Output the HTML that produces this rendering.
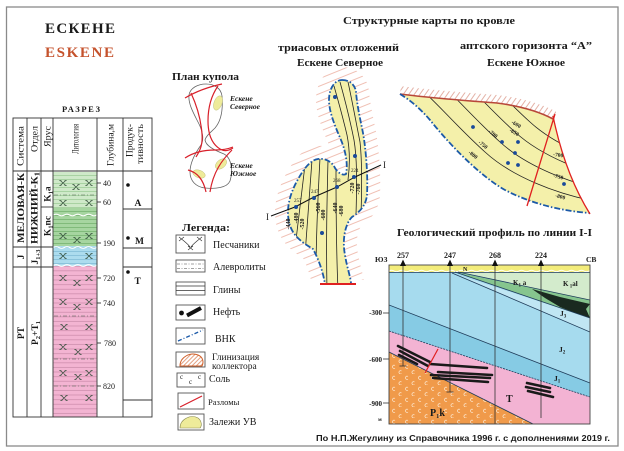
<!DOCTYPE html>
<html><head><meta charset="utf-8">
<style>
html,body{margin:0;padding:0;background:#fff;}
svg{display:block;}
text{font-family:"Liberation Serif",serif;fill:#1a1a1a;}
.b{font-weight:bold;}
.sans{font-family:"Liberation Sans",sans-serif;}
</style></head><body>
<svg width="624" height="451" viewBox="0 0 624 451" xmlns="http://www.w3.org/2000/svg">
<defs>
 <pattern id="stG1" patternUnits="userSpaceOnUse" width="10" height="4"><rect width="10" height="4" fill="#cfe9c9"/><line x1="0" y1="3.5" x2="10" y2="3.5" stroke="#98c992" stroke-width="0.7"/></pattern>
 <pattern id="stG2" patternUnits="userSpaceOnUse" width="10" height="4"><rect width="10" height="4" fill="#a6d5a0"/><line x1="0" y1="3.5" x2="10" y2="3.5" stroke="#6fae69" stroke-width="0.7"/></pattern>
 <pattern id="stB" patternUnits="userSpaceOnUse" width="10" height="4"><rect width="10" height="4" fill="#acdcee"/><line x1="0" y1="3.5" x2="10" y2="3.5" stroke="#7db9d3" stroke-width="0.7"/></pattern>
 <pattern id="stP" patternUnits="userSpaceOnUse" width="10" height="4.6"><rect width="10" height="4.6" fill="#f3b4d2"/><line x1="0" y1="4" x2="10" y2="4" stroke="#c98aa9" stroke-width="0.7"/></pattern>
 <pattern id="hatchN" patternUnits="userSpaceOnUse" width="10" height="7" patternTransform="rotate(-22)"><line x1="0" y1="3.5" x2="10" y2="3.5" stroke="#eaa494" stroke-width="0.7"/></pattern>
 <pattern id="hatchS" patternUnits="userSpaceOnUse" width="4.5" height="10" patternTransform="rotate(35)"><line x1="2" y1="0" x2="2" y2="10" stroke="#d99080" stroke-width="0.7"/></pattern>
 <pattern id="hatchO" patternUnits="userSpaceOnUse" width="3" height="3" patternTransform="rotate(45)"><line x1="1.5" y1="0" x2="1.5" y2="3" stroke="#d0602a" stroke-width="0.6"/></pattern>
 <pattern id="cpat" patternUnits="userSpaceOnUse" width="13" height="11"><rect width="13" height="11" fill="#f09a4a"/><path d="M5,2.5 a1.6,1.6 0 1 0 0,2.6 M11.5,8 a1.6,1.6 0 1 0 0,2.6" fill="none" stroke="#fde6cc" stroke-width="0.7"/></pattern>
 <path id="xm" d="M-2.6,-2.4 L2.6,2.4 M-2.6,2.4 L2.6,-2.4 M-3.6,-2.4 h2 M1.6,-2.4 h2 M-3.6,2.4 h2 M1.6,2.4 h2" fill="none" stroke="#2e4a36" stroke-width="0.7"/>
 <path id="npoly" d="M342,80 C349,80 355,84 356,92 C357,105 360,118 363,133 C366,150 368,175 367,195 C366,205 360,212 352,217 C345,224 342,240 345,255 C347,268 351,278 351,284 L325,284 C323,272 319,260 313,249 C303,243 292,236 289,222 C286,208 290,194 297,181 C303,170 310,160 318,159 C326,158 332,162 335,168 C338,173 343,176 346,174 C348,165 346,152 341,140 C335,126 329,112 329,100 C329,88 335,80 342,80 Z"/>
 <clipPath id="nclip"><use href="#npoly"/></clipPath>
 <clipPath id="nhalo"><rect x="250" y="60" width="150" height="220"/></clipPath>
 <path id="spoly" d="M400,94 C430,98 470,101 497,103 C520,106 540,112 553,119 C560,150 572,185 590,213 C560,211 530,203 505,190 C480,176 450,145 430,120 C418,106 408,99 400,94 Z"/>
 <clipPath id="sclip"><use href="#spoly"/></clipPath>
 <clipPath id="sabove"><path d="M396,94 C430,98 470,101 497,103 C520,106 540,112 553,119 L556,119 L556,70 L396,70 Z"/></clipPath>
 <clipPath id="pc"><rect x="389" y="265" width="201" height="159"/></clipPath>
</defs>

<!-- frame -->
<rect x="6.5" y="7" width="611.5" height="439" fill="#fff" stroke="#8a8a8a" stroke-width="1.3"/>

<!-- Titles -->
<text class="b" x="45" y="33" font-size="15" textLength="70" lengthAdjust="spacing" fill="#1a1a1a">ЕСКЕНЕ</text>
<text class="b" x="45" y="57" font-size="15" textLength="69" lengthAdjust="spacing" style="fill:#c5522c">ESKENE</text>
<text class="b" x="62" y="112" font-size="8.5" textLength="38" lengthAdjust="spacing">РАЗРЕЗ</text>

<!-- Column fills -->
<rect x="53.5" y="172" width="43" height="36" fill="url(#stG1)"/>
<rect x="53.5" y="208" width="43" height="38" fill="url(#stG2)"/>
<rect x="53.5" y="246" width="43" height="20" fill="url(#stB)"/>
<rect x="53.5" y="266" width="43" height="151" fill="url(#stP)"/>
<g fill="none" stroke="#fff" stroke-width="1.2">
 <path d="M53.5,215 q2.7,-1.6 5.4,0 t5.4,0 t5.4,0 t5.4,0 t5.4,0 t5.4,0 t5.4,0 t5.4,0"/>
 <path d="M53.5,247.5 q2.7,-1.6 5.4,0 t5.4,0 t5.4,0 t5.4,0 t5.4,0 t5.4,0 t5.4,0 t5.4,0"/>
 <path d="M53.5,265.5 q2.7,-1.6 5.4,0 t5.4,0 t5.4,0 t5.4,0 t5.4,0 t5.4,0 t5.4,0 t5.4,0"/>
</g>
<g stroke="#4a5a4a" stroke-width="0.6" stroke-dasharray="4,2,1,2">
 <line x1="54" y1="195" x2="96" y2="195"/>
 <line x1="54" y1="316" x2="96" y2="316"/>
 <line x1="54" y1="359" x2="96" y2="359"/>
 <line x1="54" y1="386" x2="96" y2="386"/>
</g>
<g>
 <use href="#xm" x="63" y="183"/><use href="#xm" x="89" y="183"/><use href="#xm" x="76" y="187"/>
 <use href="#xm" x="63" y="203"/><use href="#xm" x="89" y="203"/>
 <use href="#xm" x="63" y="236"/><use href="#xm" x="89" y="236"/><use href="#xm" x="77" y="240"/>
 <use href="#xm" x="63" y="256"/><use href="#xm" x="89" y="256"/>
 <use href="#xm" x="63" y="278"/><use href="#xm" x="89" y="278"/><use href="#xm" x="77" y="283"/>
 <use href="#xm" x="63" y="302"/><use href="#xm" x="89" y="302"/><use href="#xm" x="77" y="307"/>
 <use href="#xm" x="64" y="327"/><use href="#xm" x="89" y="327"/>
 <use href="#xm" x="63" y="347"/><use href="#xm" x="89" y="347"/><use href="#xm" x="78" y="352"/>
 <use href="#xm" x="63" y="373"/><use href="#xm" x="89" y="373"/><use href="#xm" x="78" y="377"/>
 <use href="#xm" x="64" y="398"/><use href="#xm" x="89" y="398"/>
</g>

<!-- Column grid -->
<g stroke="#333" stroke-width="0.9" fill="none">
 <rect x="13" y="118" width="139" height="299"/>
 <line x1="27" y1="118" x2="27" y2="417"/>
 <line x1="41" y1="118" x2="41" y2="417"/>
 <line x1="53" y1="118" x2="53" y2="417"/>
 <line x1="97" y1="118" x2="97" y2="417"/>
 <line x1="123" y1="118" x2="123" y2="417"/>
 <line x1="13" y1="171" x2="152" y2="171"/>
 <line x1="13" y1="247" x2="53" y2="247"/>
 <line x1="13" y1="267" x2="53" y2="267"/>
 <line x1="41" y1="207" x2="53" y2="207"/>
 <line x1="123" y1="209" x2="152" y2="209"/>
 <line x1="123" y1="248" x2="152" y2="248"/>
 <line x1="123" y1="267" x2="152" y2="267"/>
 <line x1="123" y1="400" x2="152" y2="400"/>
 <line x1="97" y1="183" x2="101" y2="183"/>
 <line x1="97" y1="202" x2="101" y2="202"/>
 <line x1="97" y1="243" x2="101" y2="243"/>
 <line x1="97" y1="278" x2="101" y2="278"/>
 <line x1="97" y1="303" x2="101" y2="303"/>
 <line x1="97" y1="343" x2="101" y2="343"/>
 <line x1="97" y1="386" x2="101" y2="386"/>
</g>
<!-- header labels -->
<g font-size="9.5" fill="#333">
 <text transform="translate(23.5,126) rotate(-90)" text-anchor="end" textLength="40" lengthAdjust="spacingAndGlyphs">Система</text>
 <text transform="translate(37.5,126) rotate(-90)" text-anchor="end" textLength="26" lengthAdjust="spacingAndGlyphs">Отдел</text>
 <text transform="translate(50.5,126) rotate(-90)" text-anchor="end" textLength="21" lengthAdjust="spacingAndGlyphs">Ярус</text>
 <text transform="translate(78.5,124) rotate(-90)" text-anchor="end" textLength="30" lengthAdjust="spacingAndGlyphs">Литология</text>
 <text transform="translate(113.5,124) rotate(-90)" text-anchor="end" textLength="42" lengthAdjust="spacingAndGlyphs">Глубина,м</text>
 <text transform="translate(132.5,124) rotate(-90)" text-anchor="end" textLength="33" lengthAdjust="spacingAndGlyphs">Продук-</text>
 <text transform="translate(143,124) rotate(-90)" text-anchor="end" textLength="40" lengthAdjust="spacingAndGlyphs">тивность</text>
</g>
<g class="b" font-size="9.5" font-weight="bold">
 <text transform="translate(24,208) rotate(-90)" text-anchor="middle" textLength="70" lengthAdjust="spacingAndGlyphs">МЕЛОВАЯ-К</text>
 <text transform="translate(37.5,208) rotate(-90)" text-anchor="middle" textLength="72" lengthAdjust="spacingAndGlyphs">НИЖНИЙ-К<tspan font-size="7" dy="2">1</tspan></text>
 <text transform="translate(50.5,194) rotate(-90)" text-anchor="middle">K<tspan font-size="6.5" dy="2">1</tspan><tspan dy="-2">a</tspan></text>
 <text transform="translate(50.5,226) rotate(-90)" text-anchor="middle">K<tspan font-size="6.5" dy="2">1</tspan><tspan dy="-2">nc</tspan></text>
 <text transform="translate(24,257) rotate(-90)" text-anchor="middle">J</text>
 <text transform="translate(38,257) rotate(-90)" text-anchor="middle">J<tspan font-size="6.5" dy="2">1+3</tspan></text>
 <text transform="translate(24,333) rotate(-90)" text-anchor="middle">PT</text>
 <text transform="translate(38,333) rotate(-90)" text-anchor="middle">P<tspan font-size="6.5" dy="2">2</tspan><tspan dy="-2">+T</tspan><tspan font-size="6.5" dy="2">1</tspan></text>
</g>
<g font-size="8" fill="#333">
 <text x="103" y="186">40</text><text x="103" y="205">60</text>
 <text x="103" y="246">190</text><text x="103" y="281">720</text>
 <text x="103" y="306">740</text><text x="104" y="346">780</text>
 <text x="103" y="389">820</text>
</g>
<g fill="#111">
 <circle cx="128" cy="185" r="1.8"/><circle cx="128" cy="238" r="1.8"/><circle cx="128" cy="272" r="1.8"/>
</g>
<g class="b" font-size="9.5" font-weight="bold">
 <text x="134.5" y="206">А</text><text x="135" y="244">М</text><text x="134.5" y="284">Т</text>
</g>

<!-- План купола -->
<text class="b" x="172" y="80" font-size="10.5" font-weight="bold" textLength="67" lengthAdjust="spacingAndGlyphs">План купола</text>
<path d="M206,84 C214,84 221,88 222,96 C223,108 222,120 215,128 C210,133 206,136 205,140 C206,146 214,150 224,154 C232,158 233,172 230,181 C227,188 215,189 205,188 C196,187 190,181 190,172 C190,162 196,152 201,145 C204,140 203,132 199,124 C194,114 188,104 189,95 C190,88 198,84 206,84 Z" fill="none" stroke="#666" stroke-width="0.8"/>
<g fill="#eeeb9a" stroke="#b8b870" stroke-width="0.4">
 <ellipse cx="218" cy="103" rx="4" ry="7.5" transform="rotate(20 218 103)"/>
 <ellipse cx="221" cy="164" rx="6.5" ry="4.2" transform="rotate(-40 221 164)"/>
 <ellipse cx="199" cy="174" rx="6.5" ry="3.8" transform="rotate(20 199 174)"/>
</g>
<g fill="none" stroke="#d8202a" stroke-width="1.2">
 <path d="M185,98 C195,92 208,87 222,84"/>
 <path d="M191,93 C197,106 201,120 202,134 C203,146 199,152 196,157"/>
 <path d="M218,86 C211,96 208,108 208,121 C208,134 212,144 220,149 C225,152 230,150 233,148"/>
 <path d="M185,158 C194,152 205,150 215,150 C222,150 228,149 233,147"/>
 <path d="M232,150 C222,160 213,172 210,192"/>
 <path d="M188,170 C196,172 203,178 206,192"/>
</g>
<g class="b" font-size="7.5" font-style="italic" font-weight="bold">
 <text x="230" y="101">Ескене</text><text x="230" y="109">Северное</text>
 <text x="230" y="168">Ескене</text><text x="230" y="176">Южное</text>
</g>

<!-- Legend -->
<text class="b" x="182" y="231" font-size="10.5" font-weight="bold" textLength="48" lengthAdjust="spacingAndGlyphs">Легенда:</text>
<g fill="#fff" stroke="#555" stroke-width="0.9">
 <rect x="176" y="235" width="29" height="18"/>
 <rect x="176" y="260" width="29" height="12"/>
 <rect x="176" y="282" width="29" height="13"/>
 <rect x="176" y="305" width="29" height="15"/>
 <rect x="176" y="328" width="29" height="16"/>
 <rect x="176" y="352" width="29" height="15"/>
 <rect x="177" y="373" width="28" height="14"/>
 <rect x="178" y="393" width="26" height="16"/>
 <rect x="178" y="414" width="26" height="16"/>
</g>
<g fill="none" stroke="#333" stroke-width="0.7">
 <path d="M179,237 l5,4 M179,241 l5,-4 M197,237 l5,4 M197,241 l5,-4 M188,246 l5,4 M188,250 l5,-4 M184,241 C186,243 188,244 190,247 M197,241 C195,243 193,244 191,247"/>
</g>
<g stroke="#444" stroke-width="0.6" stroke-dasharray="3,1.5,1,1.5">
 <line x1="177" y1="264" x2="204" y2="264"/><line x1="177" y1="268.5" x2="204" y2="268.5"/>
</g>
<g stroke="#333" stroke-width="0.8">
 <line x1="176" y1="286" x2="205" y2="286"/><line x1="176" y1="290.5" x2="205" y2="290.5"/>
</g>
<circle cx="181.5" cy="313" r="2.4" fill="#111"/>
<line x1="187" y1="315.5" x2="201" y2="308" stroke="#111" stroke-width="4"/>
<line x1="178" y1="341" x2="203" y2="330" stroke="#1c5aa8" stroke-width="1.3" stroke-dasharray="4,2,1,2"/>
<path d="M180,366 C180,357 190,352 198,355 C203,357 204,362 202,366 Z" fill="url(#hatchO)" stroke="#d0602a" stroke-width="1"/>
<g font-size="7" fill="#333"><text x="180" y="379">c</text><text x="189" y="384">c</text><text x="198" y="379">c</text></g>
<line x1="180" y1="407" x2="202" y2="396" stroke="#d8202a" stroke-width="1.2"/>
<path d="M180,428 C180,419 191,414 198,418 C202,421 202,426 200,428 Z" fill="#eeeb9a" stroke="#8a8a50" stroke-width="0.6"/>
<g font-size="10">
 <text x="213" y="248">Песчаники</text>
 <text x="213" y="270">Алевролиты</text>
 <text x="213" y="293">Глины</text>
 <text x="213" y="315">Нефть</text>
 <text x="215" y="342">ВНК</text>
 <text x="212" y="360" font-size="9.5">Глинизация</text>
 <text x="212" y="369" font-size="9.5">коллектора</text>
 <text x="209" y="382">Соль</text>
 <text x="208" y="405" font-size="8.5">Разломы</text>
 <text x="209" y="425">Залежи УВ</text>
</g>

<!-- Map titles -->
<g class="b" font-weight="bold">
 <text x="343" y="24" font-size="11" textLength="172" lengthAdjust="spacingAndGlyphs">Структурные карты по кровле</text>
 <text x="278" y="51" font-size="10.5" textLength="121" lengthAdjust="spacingAndGlyphs">триасовых отложений</text>
 <text x="297" y="66" font-size="10.5" textLength="86" lengthAdjust="spacingAndGlyphs">Ескене Северное</text>
 <text x="460" y="49" font-size="10.5" textLength="132" lengthAdjust="spacingAndGlyphs">аптского горизонта “А”</text>
 <text x="487" y="66" font-size="10.5" textLength="78" lengthAdjust="spacingAndGlyphs">Ескене Южное</text>
 <text x="397" y="236" font-size="10.5" textLength="195" lengthAdjust="spacingAndGlyphs">Геологический профиль по линии I-I</text>
</g>

<!-- Northern map -->
<g clip-path="url(#nhalo)"><use href="#npoly" fill="none" stroke="url(#hatchN)" stroke-width="26"/></g>
<use href="#npoly" fill="#f4f0aa"/>
<g clip-path="url(#nclip)" fill="none" stroke="#222" stroke-width="0.8">
 <path d="M334,86 C338,100 343,118 347,135 C350,150 350,165 348,180"/>
 <path d="M340,82 C345,100 350,120 354,140 C357,158 357,180 356,215"/>
 <path d="M348,82 C352,100 356,122 360,142 C362,160 362,185 361,215"/>
 <path d="M305,165 C302,190 299,215 296,240"/>
 <path d="M312,160 C310,190 307,225 305,255"/>
 <path d="M320,158 C318,195 316,235 316,275"/>
 <path d="M328,160 C327,200 326,240 327,290"/>
 <path d="M336,168 C336,200 336,245 338,290"/>
</g>
<use href="#npoly" fill="none" stroke="#1c5aa8" stroke-width="1.8" stroke-dasharray="6,2,1.5,2"/>
<line x1="320" y1="284" x2="356" y2="284" stroke="#e02020" stroke-width="2"/>
<polyline points="271,216 295,207 314,197 337,187 355,177 381,165" fill="none" stroke="#111" stroke-width="1"/>
<text x="266" y="220" font-size="9">I</text>
<text x="383" y="168" font-size="9">I</text>
<g fill="#1a4a9a">
 <circle cx="296" cy="207" r="2"/><circle cx="314" cy="198" r="2"/><circle cx="337" cy="187" r="2"/><circle cx="354" cy="177" r="2"/>
 <circle cx="335" cy="97" r="2"/><circle cx="355" cy="156" r="2"/><circle cx="322" cy="233" r="2"/>
</g>
<g font-size="5" style="fill:#3a4aa0">
 <text x="294" y="202">257</text><text x="311" y="193">247</text><text x="333" y="182">268</text><text x="351" y="172">224</text>
</g>
<g class="b" font-size="6" font-weight="bold">
 <text transform="translate(290,224) rotate(-90)" text-anchor="middle">-440</text>
 <text transform="translate(298,218) rotate(-90)" text-anchor="middle">-480</text>
 <text transform="translate(304,224) rotate(-90)" text-anchor="middle">-520</text>
 <text transform="translate(320,208) rotate(-90)" text-anchor="middle">-560</text>
 <text transform="translate(325,215) rotate(-90)" text-anchor="middle">-600</text>
 <text transform="translate(337,208) rotate(-90)" text-anchor="middle">-640</text>
 <text transform="translate(343,211) rotate(-90)" text-anchor="middle">-680</text>
 <text transform="translate(354,188) rotate(-90)" text-anchor="middle">-720</text>
 <text transform="translate(360,189) rotate(-90)" text-anchor="middle">-760</text>
</g>

<!-- Southern map -->
<g clip-path="url(#sabove)"><path d="M400,94 C430,98 470,101 497,103 C520,106 540,112 553,119" fill="none" stroke="url(#hatchS)" stroke-width="16"/></g>
<use href="#spoly" fill="#f4f0aa"/>
<g clip-path="url(#sclip)" fill="none" stroke="#222" stroke-width="0.8">
 <path d="M415,84 C433,98 455,125 485,152 C510,175 555,195 605,203"/>
 <path d="M430,74 C448,88 470,115 500,142 C525,165 570,185 620,193"/>
 <path d="M445,64 C463,78 485,105 515,132 C540,155 585,175 635,183"/>
 <path d="M460,54 C478,68 500,95 530,122 C555,145 600,165 650,173"/>
 <path d="M475,44 C493,58 515,85 545,112 C570,135 615,155 665,163"/>
 <path d="M490,34 C508,48 530,75 560,102 C585,125 630,145 680,153"/>
</g>
<path d="M400,94 C430,98 470,101 497,103 C520,106 540,112 553,119" fill="none" stroke="#b8483a" stroke-width="1.6"/>
<path d="M400,94 C408,99 418,106 430,120 C450,145 480,176 505,190 C530,203 560,211 590,213" fill="none" stroke="#1c5aa8" stroke-width="1.8" stroke-dasharray="6,2,1.5,2"/>
<path d="M553,116 C560,150 572,185 590,214" fill="none" stroke="#e02020" stroke-width="1.3"/>
<path d="M555,114 L527,206" fill="none" stroke="#e02020" stroke-width="1.3"/>
<g fill="#1a4a9a">
 <circle cx="473" cy="127" r="1.9"/><circle cx="502" cy="142" r="1.9"/><circle cx="518" cy="142" r="1.9"/>
 <circle cx="515" cy="153" r="1.9"/><circle cx="508" cy="163" r="1.9"/><circle cx="518" cy="165" r="1.9"/>
 <circle cx="564" cy="184" r="1.9"/>
</g>
<g class="b" font-size="5.5" font-weight="bold">
 <text transform="translate(511,123) rotate(32)">-600</text>
 <text transform="translate(509,131) rotate(32)">-650</text>
 <text transform="translate(488,132) rotate(38)">-700</text>
 <text transform="translate(478,143) rotate(38)">-750</text>
 <text transform="translate(468,153) rotate(38)">-800</text>
 <text transform="translate(553,156) rotate(8)">-700</text>
 <text transform="translate(553,177) rotate(15)">-750</text>
 <text transform="translate(555,197) rotate(15)">-800</text>
</g>

<!-- Profile -->
<g clip-path="url(#pc)">
 <rect x="389" y="265" width="201" height="159" fill="#a6dbee"/>
 <polygon points="389,305 590,383 590,397 389,331" fill="#86cbe4"/>
 <polygon points="389,331 590,397 590,424 533,424 389,352" fill="#f3b3d3"/>
 <polygon points="389,352 533,424 389,424" fill="url(#cpat)"/>
 <polygon points="452,273 590,318 590,332" fill="#c0e6f3"/>
 <polygon points="455,272 590,300 590,318" fill="#86c58e"/>
 <polygon points="460,272 590,272 590,300" fill="#d3ebcc"/>
 <polygon points="532,289 560,297 590,304 586,309 590,318 575,313 560,307 545,298" fill="#1a2a20"/>
 <rect x="389" y="265" width="201" height="7" fill="#f3ec7a"/>
 <path d="M389,271 q2.5,-1.4 5,0 t5,0 t5,0 t5,0 t5,0 t5,0 t5,0 t5,0 t5,0 t5,0 t5,0 t5,0 t5,0 t5,0 t5,0 t5,0 t5,0 t5,0 t5,0 t5,0 t5,0 t5,0 t5,0 t5,0 t5,0 t5,0 t5,0 t5,0 t5,0 t5,0 t5,0 t5,0 t5,0 t5,0 t5,0 t5,0 t5,0 t5,0 t5,0 t5,0 t5,0" fill="none" stroke="#fff" stroke-width="1"/>
 <g fill="none" stroke="#1f3c5a" stroke-width="0.8">
  <line x1="389" y1="305" x2="590" y2="383"/>
  <path d="M389,331 L590,397" stroke-dasharray="2,1"/>
  <line x1="389" y1="352" x2="533" y2="424"/>
  <line x1="452" y1="273" x2="590" y2="332"/>
  <line x1="455" y1="272" x2="590" y2="318"/>
  <line x1="458" y1="272" x2="590" y2="300"/>
  <line x1="389" y1="272.5" x2="590" y2="272.5"/>
 </g>
 <g stroke="#333" stroke-width="0.8">
  <line x1="403" y1="265" x2="403" y2="366"/><line x1="399.5" y1="366" x2="406.5" y2="366"/>
  <line x1="450" y1="265" x2="450" y2="392"/><line x1="446.5" y1="392" x2="453.5" y2="392"/>
  <line x1="495" y1="265" x2="495" y2="424"/>
  <line x1="541" y1="265" x2="541" y2="418"/>
 </g>
 <g stroke="#1a1a1a" stroke-width="2.6" stroke-linecap="round">
  <line x1="398" y1="346" x2="430" y2="362"/>
  <line x1="400" y1="351" x2="428" y2="366"/>
  <line x1="399" y1="355" x2="417" y2="364"/>
  <line x1="430" y1="364" x2="487" y2="368"/>
  <line x1="438" y1="372" x2="492" y2="375"/>
  <line x1="431" y1="375" x2="490" y2="378"/>
  <line x1="433" y1="378" x2="488" y2="382"/>
  <line x1="527" y1="383" x2="550" y2="388"/>
  <line x1="526" y1="387" x2="550" y2="392"/>
  <line x1="528" y1="391" x2="553" y2="397"/>
 </g>
 <line x1="438" y1="349" x2="425" y2="373" stroke="#e02020" stroke-width="1.2"/>
</g>
<rect x="389" y="265" width="201" height="159" fill="none" stroke="#444" stroke-width="0.9"/>
<g fill="#111">
 <polygon points="400,266 403,259.5 406,266"/>
 <polygon points="447,266 450,259.5 453,266"/>
 <polygon points="492,266 495,259.5 498,266"/>
 <polygon points="538,266 541,259.5 544,266"/>
</g>
<g class="b" font-size="8" font-weight="bold">
 <text x="403" y="258" text-anchor="middle">257</text>
 <text x="450" y="258" text-anchor="middle">247</text>
 <text x="495" y="258" text-anchor="middle">268</text>
 <text x="541" y="258" text-anchor="middle">224</text>
 <text x="375" y="262" font-size="7.5">ЮЗ</text>
 <text x="586" y="262" font-size="7.5">СВ</text>
 <text x="463" y="271" font-size="6">N</text>
 <text x="513" y="285" font-size="7">K<tspan font-size="5" dy="1.5">1</tspan><tspan dy="-1.5"> a</tspan></text>
 <text x="563" y="286" font-size="7">K<tspan font-size="5" dy="1.5"> 1</tspan><tspan dy="-1.5">al</tspan></text>
 <text x="560" y="316" font-size="7.5">J<tspan font-size="5" dy="1.5">3</tspan></text>
 <text x="559" y="352" font-size="7.5">J<tspan font-size="5" dy="1.5">2</tspan></text>
 <text x="554" y="381" font-size="7.5">J<tspan font-size="5" dy="1.5">1</tspan></text>
 <text x="506" y="402" font-size="10">T</text>
 <text x="430" y="416" font-size="10">P<tspan font-size="6.5" dy="2">1</tspan><tspan dy="-2">k</tspan></text>
 <text x="382" y="315" font-size="7" text-anchor="end">-300</text>
 <text x="382" y="362" font-size="7" text-anchor="end">-600</text>
 <text x="382" y="406" font-size="7" text-anchor="end">-900</text>
 <text x="378" y="421" font-size="5.5">м</text>
</g>
<g stroke="#333" stroke-width="0.8">
 <line x1="383" y1="313" x2="389" y2="313"/>
 <line x1="383" y1="359" x2="389" y2="359"/>
 <line x1="383" y1="403" x2="389" y2="403"/>
</g>

<!-- Caption -->
<text class="sans b" x="316" y="441" font-size="8.6" font-weight="bold" textLength="294" lengthAdjust="spacingAndGlyphs">По Н.П.Жегулину из Справочника 1996 г. с дополнениями 2019 г.</text>
</svg>
</body></html>
